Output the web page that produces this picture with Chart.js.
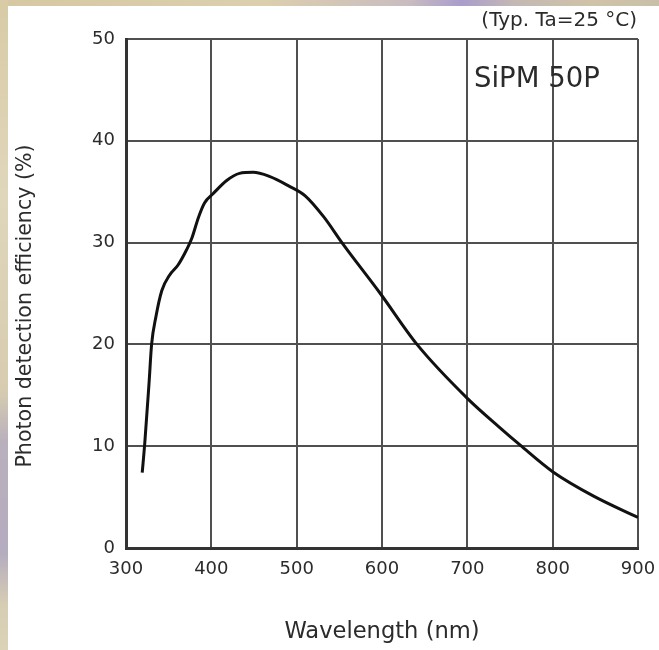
<!DOCTYPE html>
<html>
<head>
<meta charset="utf-8">
<script src="https://cdn.jsdelivr.net/npm/chart.js@4"></script>
<style>
  html, body { margin:0; padding:0; width:659px; height:650px; overflow:hidden; }
  body { position:relative; background:#d8cba8; }
  #topstrip { position:absolute; left:0; top:0; width:659px; height:6px;
    background: linear-gradient(to right, #d6c8a2 0%, #dccfae 40%, #c9bcc0 62%, #a99dcc 70%, #c4b8b4 78%, #cfc3a8 90%, #c9bfa9 100%); }
  #leftstrip { position:absolute; left:0; top:0; width:8px; height:650px;
    background: linear-gradient(to bottom, #d8cba6 0%, #e0d6bb 30%, #d7ccb0 60%, #b9b0bd 68%, #b4acbf 85%, #d6cdb4 93%, #dcd2b8 100%); }
  #wrap { position:absolute; left:8px; top:6px; width:651px; height:644px; background:#ffffff; }
</style>
</head>
<body>
<div id="topstrip"></div>
<div id="leftstrip"></div>
<div id="wrap"><canvas id="c"></canvas></div>
<script>
// Data
const wavelength = [319, 322, 327, 330, 335, 342, 351, 361, 371, 377, 385, 392, 402, 418, 433, 449, 468, 490, 510, 532, 553, 598, 641, 700, 737, 762, 800, 848, 900];
const pde = [7.4, 10.3, 16.2, 20.0, 22.7, 25.3, 26.8, 27.8, 29.3, 30.4, 32.5, 33.9, 34.8, 36.1, 36.8, 36.9, 36.5, 35.6, 34.6, 32.5, 30.0, 25.0, 20.0, 14.7, 11.9, 10.1, 7.5, 5.1, 3.0];
const xTicks = [300, 400, 500, 600, 700, 800, 900];
const yTicks = [0, 10, 20, 30, 40, 50];
const xTitle = 'Wavelength (nm)';
const yTitle = 'Photon detection efficiency (%)';
const noteText = '(Typ. Ta=25 °C)';
const deviceText = 'SiPM 50P';

const FONT = "'DejaVu Sans', Verdana, sans-serif";
const TXT = '#2b2b2b';

const annot = {
  id: 'annot',
  afterDraw(chart) {
    const ctx = chart.ctx;
    const a = chart.chartArea;
    ctx.save();
    ctx.fillStyle = TXT;
    // note top right
    ctx.font = "20px " + FONT;
    ctx.textAlign = 'right';
    ctx.textBaseline = 'middle';
    ctx.fillText(noteText, a.right - 1, 15);
    // device label
    ctx.font = "27.5px " + FONT;
    ctx.textAlign = 'left';
    ctx.textBaseline = 'alphabetic';
    ctx.fillText(deviceText, 466, 81);
    // y title
    ctx.font = "20.6px " + FONT;
    ctx.translate(18, 300);
    ctx.rotate(-Math.PI / 2);
    ctx.textAlign = 'center';
    ctx.textBaseline = 'middle';
    ctx.fillText(yTitle, 0, 0);
    ctx.restore();
  }
};

new Chart(document.getElementById('c'), {
  type: 'line',
  data: {
    datasets: [{
      data: wavelength.map((w, i) => ({ x: w, y: pde[i] })),
      borderColor: '#111111',
      borderWidth: 3,
      pointRadius: 0,
      fill: false,
      cubicInterpolationMode: 'monotone'
    }]
  },
  options: {
    responsive: true,
    maintainAspectRatio: false,
    animation: false,
    layout: { padding: { top: 33, right: 21, bottom: 0, left: 0 } },
    plugins: { legend: { display: false }, tooltip: { enabled: false } },
    scales: {
      x: {
        type: 'linear',
        min: xTicks[0], max: xTicks[xTicks.length - 1],
        afterBuildTicks: s => { s.ticks = xTicks.map(v => ({ value: v })); },
        afterFit: s => { s.height = 102; s.paddingLeft = 0; s.paddingRight = 0; },
        grid: { color: '#505050', lineWidth: 2, drawTicks: false },
        border: { color: '#333333', width: 3 },
        ticks: { color: TXT, font: { family: FONT, size: 18 }, padding: 11, maxRotation: 0 },
        title: { display: true, text: xTitle, color: TXT, font: { family: FONT, size: 22.6 }, padding: { top: 0, bottom: 4 } }
      },
      y: {
        min: yTicks[0], max: yTicks[yTicks.length - 1],
        afterBuildTicks: s => { s.ticks = yTicks.map(v => ({ value: v })); },
        afterFit: s => { s.width = 118; },
        grid: { color: '#505050', lineWidth: 2, drawTicks: false },
        border: { color: '#333333', width: 3 },
        ticks: { color: TXT, font: { family: FONT, size: 18 }, padding: 11 }
      }
    }
  },
  plugins: [annot]
});
</script>
</body>
</html>
